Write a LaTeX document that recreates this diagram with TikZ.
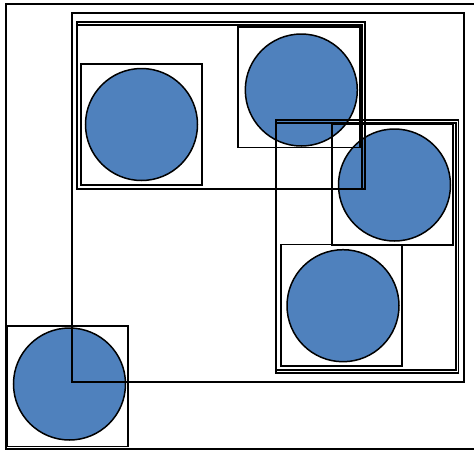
\documentclass[tikz,border=0pt]{standalone}
\definecolor{ballblue}{HTML}{4F81BD}
\tikzset{
  ball/.style={circle, draw=black, line width=1.5pt, fill=ballblue, inner sep=0pt, minimum size=112pt},
  frame/.style={draw=black, line width=1.8pt}
}
\begin{document}
\begin{tikzpicture}[x=1pt,y=-1pt]
\useasboundingbox (0,0) rectangle (474,451);
% circles
\node[ball] (c1) at (141.5,124.5) {};
\node[ball] (c2) at (301.3,90) {};
\node[ball] (c3) at (394.5,185) {};
\node[ball] (c4) at (343,305.7) {};
\node[ball] (c5) at (69.5,384) {};
% outer frame
\draw[frame] (6,4) rectangle (477,449);
% big frame
\draw[frame] (72,13) rectangle (464,382);
% top group (double on top and right)
\draw[frame] (77,22) rectangle (365,189);
\draw[frame] (77,24.8) rectangle (362.2,189);
% right group (double on top, right and bottom)
\draw[frame] (276,120) rectangle (458.5,373);
\draw[frame] (276,122.8) rectangle (455.7,370.2);
% boxes around circles
\draw[frame] (81,64) rectangle (202,185);
\draw[frame] (238,27) rectangle (360,147.5);
\draw[frame] (332,124) rectangle (453,245);
\draw[frame] (281,244.5) rectangle (402,366);
\draw[frame] (7,326) rectangle (128,446.5);
\end{tikzpicture}
\end{document}
